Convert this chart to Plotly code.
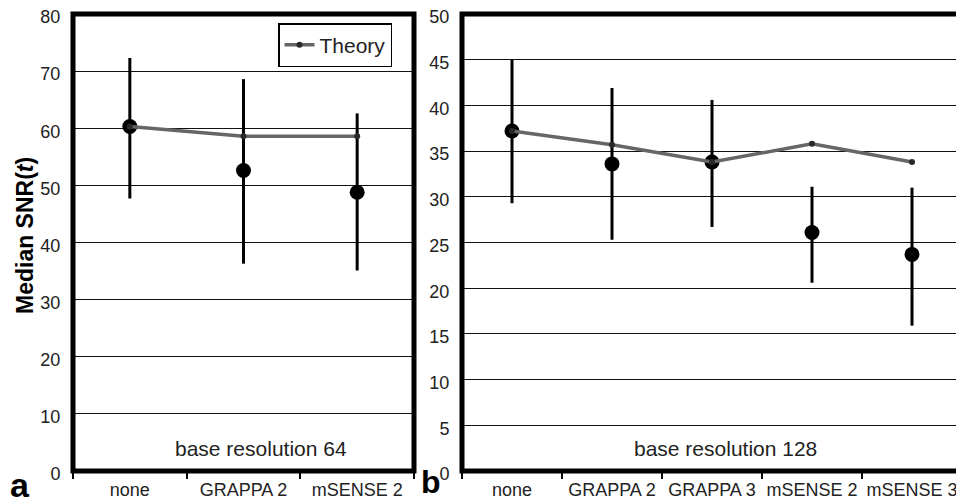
import plotly.graph_objects as go

# Panel a (base resolution 64)
cats_a = ["none", "GRAPPA 2", "mSENSE 2"]
median_a = [60.3, 52.6, 48.8]
err_hi_a = [72.3, 68.6, 62.6]
err_lo_a = [47.7, 36.3, 35.1]
theory_a = [60.3, 58.6, 58.6]

# Panel b (base resolution 128)
cats_b = ["none", "GRAPPA 2", "GRAPPA 3", "mSENSE 2", "mSENSE 3"]
median_b = [37.2, 33.6, 33.8, 26.1, 23.7]
err_hi_b = [45.0, 41.9, 40.6, 31.1, 31.0]
err_lo_b = [29.3, 25.3, 26.7, 20.6, 15.9]
theory_b = [37.2, 35.7, 33.8, 35.8, 33.8]

# page body has an 8px margin; figure is sized so that it ends at the window edge
OFF = 8
W, H = 964 - OFF, 504 - OFF
FONT = "Liberation Sans, Arial, sans-serif"


def px(x):
    return (x - OFF) / W


def py(y):
    return 1 - (y - OFF) / H


fig = go.Figure()


def add_panel(cats, med, hi, lo, theory, xa, ya, showleg):
    fig.add_trace(go.Scatter(
        x=cats, y=med, mode="markers", xaxis=xa, yaxis=ya, showlegend=False,
        marker=dict(color="black", size=15),
        error_y=dict(type="data", symmetric=False,
                     array=[h - m for h, m in zip(hi, med)],
                     arrayminus=[m - l for m, l in zip(med, lo)],
                     color="black", thickness=3, width=0),
    ))
    fig.add_trace(go.Scatter(
        x=cats, y=theory, mode="lines+markers", xaxis=xa, yaxis=ya,
        name="Theory", showlegend=showleg,
        line=dict(color="#666666", width=3.5),
        marker=dict(color="#2a2a2a", size=6),
    ))


add_panel(cats_a, median_a, err_hi_a, err_lo_a, theory_a, "x", "y", True)
add_panel(cats_b, median_b, err_hi_b, err_lo_b, theory_b, "x2", "y2", False)

xcommon = dict(showline=False, ticks="outside", tickson="boundaries", ticklen=7,
               tickwidth=1.5, tickcolor="black", showgrid=False, zeroline=False,
               automargin=False, tickangle=0, ticklabelstandoff=6,
               ticklabeloverflow="allow",
               tickfont=dict(family=FONT, size=18, color="#222"), fixedrange=True)
ycommon = dict(showline=False, ticks="outside", ticklen=8,
               tickcolor="rgba(0,0,0,0)", showgrid=True, gridcolor="#111",
               gridwidth=1.3, zeroline=False, automargin=False,
               ticklabeloverflow="allow", ticklabelshift=3,
               tickfont=dict(family=FONT, size=18, color="#222"),
               fixedrange=True)

TOP, BOT = 14, 471
A_L, A_R = 73, 414
B_L, B_R = 462, 962
ydom = [py(BOT), py(TOP)]

shapes = []
for l, r in [(A_L, A_R), (B_L, B_R)]:
    shapes.append(dict(type="rect", xref="paper", yref="paper",
                       x0=px(l), x1=px(r), y0=py(BOT), y1=py(TOP),
                       line=dict(color="black", width=5), layer="above"))

fig.update_layout(
    width=W, height=H,
    margin=dict(l=0, r=0, t=0, b=0, autoexpand=False),
    paper_bgcolor="white", plot_bgcolor="white",
    xaxis=dict(domain=[px(A_L), px(A_R)], anchor="y",
               range=[-0.5, len(cats_a) - 0.5], **xcommon),
    yaxis=dict(domain=ydom, anchor="x", range=[0, 80], dtick=10, **ycommon),
    xaxis2=dict(domain=[px(B_L), px(B_R)], anchor="y2",
                range=[-0.5, len(cats_b) - 0.5], **xcommon),
    yaxis2=dict(domain=ydom, anchor="x2", range=[0, 50], dtick=5, **ycommon),
    shapes=shapes,
    legend=dict(x=px(278), y=py(23), xanchor="left", yanchor="top",
                bordercolor="black", borderwidth=1.5, bgcolor="white",
                font=dict(family=FONT, size=21, color="#222"),
                itemwidth=30, tracegroupgap=0),
    annotations=[
        dict(text="<b>Median SNR(<i>t</i>)</b>", x=px(25), y=py(236),
             xref="paper", yref="paper", textangle=-90, showarrow=False,
             xanchor="center", yanchor="middle",
             font=dict(family=FONT, size=23, color="black")),
        dict(text="base resolution 64", x=px(261), y=py(448), xref="paper",
             yref="paper", showarrow=False, xanchor="center", yanchor="middle",
             font=dict(family=FONT, size=21, color="#222")),
        dict(text="base resolution 128", x=px(725), y=py(448), xref="paper",
             yref="paper", showarrow=False, xanchor="center", yanchor="middle",
             font=dict(family=FONT, size=21, color="#222")),
        dict(text="<b>a</b>", x=px(20), y=py(485), xref="paper", yref="paper",
             showarrow=False, xanchor="center", yanchor="middle",
             font=dict(family=FONT, size=34, color="black")),
        dict(text="<b>b</b>", x=px(431), y=py(482), xref="paper", yref="paper",
             showarrow=False, xanchor="center", yanchor="middle",
             font=dict(family=FONT, size=32, color="black")),
    ],
)

fig.write_html("out.html")
